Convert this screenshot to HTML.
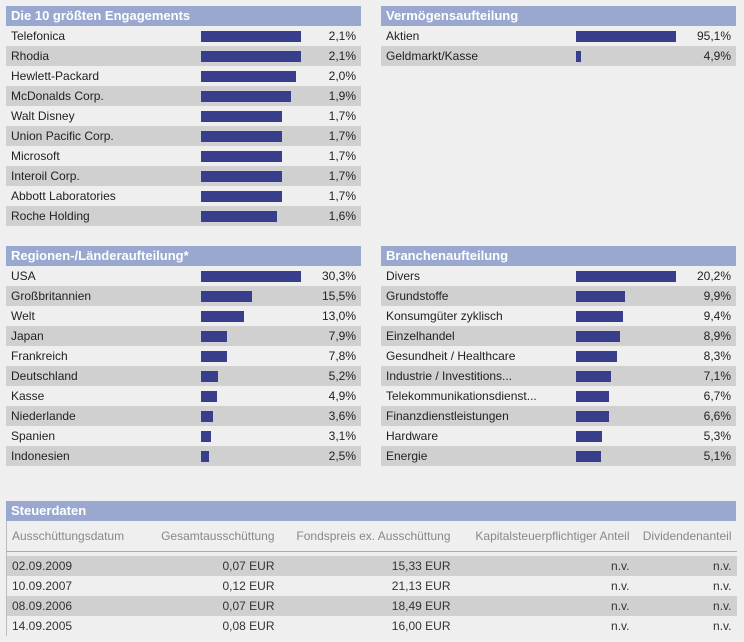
<!DOCTYPE html>
<html><head><meta charset="utf-8"><style>
body{margin:0;width:744px;height:642px;background:#efefef;font-family:"Liberation Sans",Arial,sans-serif;font-size:12px;color:#222;position:relative;overflow:hidden}
.p{position:absolute;width:355px}
.h{height:20px;background:#9aa8d0;color:#fff;font-weight:bold;font-size:13px;line-height:20px;padding-left:5px}
.r{height:20px;position:relative;line-height:20px}
.r:nth-child(odd){background:#d0d0d0}
.r span{position:absolute;left:5px}
.r i{position:absolute;left:195px;top:5px;height:11px;background:#383e8c}
.r b{position:absolute;right:5px;font-weight:normal}
table{position:absolute;left:6px;top:521px;width:730px;border-collapse:collapse;border-left:1px solid #bbb;table-layout:fixed}
td{height:20px;padding:0 5px;color:#333;white-space:nowrap}
thead td{height:30px;color:#888;border-bottom:1px solid #aab;padding-top:0}
tr.g td{background:#d0d0d0}
.n{text-align:right}
</style></head><body>
<div class="p" style="left:6px;top:6px"><div class="h">Die 10 größten Engagements</div>
<div class="r"><span>Telefonica</span><i style="width:100px"></i><b>2,1%</b></div>
<div class="r"><span>Rhodia</span><i style="width:100px"></i><b>2,1%</b></div>
<div class="r"><span>Hewlett-Packard</span><i style="width:95px"></i><b>2,0%</b></div>
<div class="r"><span>McDonalds Corp.</span><i style="width:90px"></i><b>1,9%</b></div>
<div class="r"><span>Walt Disney</span><i style="width:81px"></i><b>1,7%</b></div>
<div class="r"><span>Union Pacific Corp.</span><i style="width:81px"></i><b>1,7%</b></div>
<div class="r"><span>Microsoft</span><i style="width:81px"></i><b>1,7%</b></div>
<div class="r"><span>Interoil Corp.</span><i style="width:81px"></i><b>1,7%</b></div>
<div class="r"><span>Abbott Laboratories</span><i style="width:81px"></i><b>1,7%</b></div>
<div class="r"><span>Roche Holding</span><i style="width:76px"></i><b>1,6%</b></div>
</div>
<div class="p" style="left:381px;top:6px"><div class="h">Vermögensaufteilung</div>
<div class="r"><span>Aktien</span><i style="width:100px"></i><b>95,1%</b></div>
<div class="r"><span>Geldmarkt/Kasse</span><i style="width:5px"></i><b>4,9%</b></div>
</div>
<div class="p" style="left:6px;top:246px"><div class="h">Regionen-/Länderaufteilung*</div>
<div class="r"><span>USA</span><i style="width:100px"></i><b>30,3%</b></div>
<div class="r"><span>Großbritannien</span><i style="width:51px"></i><b>15,5%</b></div>
<div class="r"><span>Welt</span><i style="width:43px"></i><b>13,0%</b></div>
<div class="r"><span>Japan</span><i style="width:26px"></i><b>7,9%</b></div>
<div class="r"><span>Frankreich</span><i style="width:26px"></i><b>7,8%</b></div>
<div class="r"><span>Deutschland</span><i style="width:17px"></i><b>5,2%</b></div>
<div class="r"><span>Kasse</span><i style="width:16px"></i><b>4,9%</b></div>
<div class="r"><span>Niederlande</span><i style="width:12px"></i><b>3,6%</b></div>
<div class="r"><span>Spanien</span><i style="width:10px"></i><b>3,1%</b></div>
<div class="r"><span>Indonesien</span><i style="width:8px"></i><b>2,5%</b></div>
</div>
<div class="p" style="left:381px;top:246px"><div class="h">Branchenaufteilung</div>
<div class="r"><span>Divers</span><i style="width:100px"></i><b>20,2%</b></div>
<div class="r"><span>Grundstoffe</span><i style="width:49px"></i><b>9,9%</b></div>
<div class="r"><span>Konsumgüter zyklisch</span><i style="width:47px"></i><b>9,4%</b></div>
<div class="r"><span>Einzelhandel</span><i style="width:44px"></i><b>8,9%</b></div>
<div class="r"><span>Gesundheit / Healthcare</span><i style="width:41px"></i><b>8,3%</b></div>
<div class="r"><span>Industrie / Investitions...</span><i style="width:35px"></i><b>7,1%</b></div>
<div class="r"><span>Telekommunikationsdienst...</span><i style="width:33px"></i><b>6,7%</b></div>
<div class="r"><span>Finanzdienstleistungen</span><i style="width:33px"></i><b>6,6%</b></div>
<div class="r"><span>Hardware</span><i style="width:26px"></i><b>5,3%</b></div>
<div class="r"><span>Energie</span><i style="width:25px"></i><b>5,1%</b></div>
</div>
<div class="h" style="position:absolute;left:6px;top:501px;width:725px">Steuerdaten</div>
<table>
<colgroup><col style="width:139px"><col style="width:134px"><col style="width:176px"><col style="width:179px"><col style="width:102px"></colgroup>
<thead><tr><td>Ausschüttungsdatum</td><td class="n">Gesamtausschüttung</td><td class="n">Fondspreis ex. Ausschüttung</td><td class="n">Kapitalsteuerpflichtiger Anteil</td><td class="n">Dividendenanteil</td></tr></thead>
<tbody>
<tr><td style="height:4px;padding:0" colspan="5"></td></tr>
<tr class="g"><td>02.09.2009</td><td class="n">0,07 EUR</td><td class="n">15,33 EUR</td><td class="n">n.v.</td><td class="n">n.v.</td></tr>
<tr><td>10.09.2007</td><td class="n">0,12 EUR</td><td class="n">21,13 EUR</td><td class="n">n.v.</td><td class="n">n.v.</td></tr>
<tr class="g"><td>08.09.2006</td><td class="n">0,07 EUR</td><td class="n">18,49 EUR</td><td class="n">n.v.</td><td class="n">n.v.</td></tr>
<tr><td>14.09.2005</td><td class="n">0,08 EUR</td><td class="n">16,00 EUR</td><td class="n">n.v.</td><td class="n">n.v.</td></tr>
</tbody></table>
</body></html>
